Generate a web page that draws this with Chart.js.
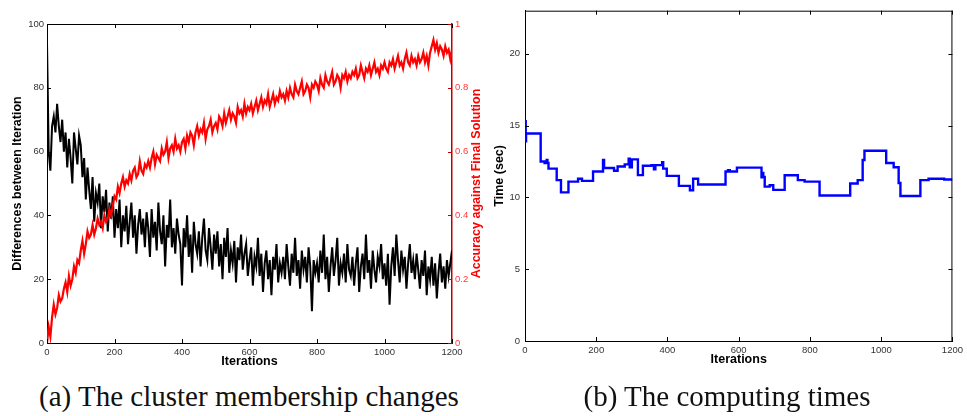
<!DOCTYPE html>
<html>
<head>
<meta charset="utf-8">
<script src="https://cdn.jsdelivr.net/npm/chart.js@4.4.1/dist/chart.umd.min.js"></script>
<style>
  html, body { margin: 0; padding: 0; background: #fff; }
  body { width: 967px; height: 416px; position: relative; overflow: hidden; }
  canvas { position: absolute; top: 0; }
  #left { left: 0; }
  #right { left: 485px; }
  .caption {
    position: absolute; top: 382px;
    font-family: 'Liberation Serif', serif; font-size: 29px; line-height: 29px;
    white-space: nowrap; transform: translateX(-50%); color: #111;
  }
</style>
</head>
<body>
<canvas id="left" width="495" height="375"></canvas>
<canvas id="right" width="482" height="375"></canvas>
<div class="caption" style="left:249px">(a) The cluster membership changes</div>
<div class="caption" style="left:727px">(b) The computing times</div>
<script>
// sampled every 5 iterations, 0..1200
const sampleStep = 5;

const diffValues = [
  94, 60, 54, 68, 71, 66, 75, 68, 63, 70, 60, 66, 55, 64, 58, 50, 66, 61, 56, 65,
  62, 52, 58, 45, 55, 48, 42, 52, 38, 47, 44, 50, 36, 46, 41, 48, 35, 44, 39, 46,
  33, 42, 36, 45, 30, 40, 35, 43, 31, 38, 44, 33, 40, 28, 37, 42, 34, 39, 30, 41,
  36, 27, 42, 33, 38, 29, 44, 35, 31, 40, 24, 37, 33, 45, 30, 36, 28, 39, 34, 31,
  18, 36, 30, 40, 27, 34, 22, 38, 31, 28, 35, 24, 33, 39, 29, 26, 36, 30, 23, 34,
  28, 35, 24, 31, 20, 33, 27, 36, 22, 29, 25, 32, 19, 30, 26, 34, 23, 28, 31, 21,
  26, 30, 18, 27, 24, 33, 21, 28, 16, 25, 29, 20, 26, 15, 27, 23, 31, 19, 25, 22,
  27, 20, 31, 24, 18, 28, 22, 33, 21, 26, 17, 29, 23, 27, 19, 30, 24, 10, 26, 22,
  25, 19, 29, 22, 34, 20, 27, 16, 24, 30, 21, 26, 33, 18, 25, 22, 28, 19, 31, 23,
  21, 27, 18, 25, 30, 16, 24, 28, 20, 34, 22, 26, 17, 29, 23, 19, 27, 24, 31, 20,
  25, 18, 28, 12, 24, 30, 21, 34, 26, 19, 29, 23, 27, 17, 25, 31, 22, 26, 20, 28,
  23, 17, 26, 21, 29, 15, 24, 20, 27, 18, 25, 14, 22, 28, 19, 24, 17, 26, 21, 25,
  29
];

const accuracyValues = [
  0.00, 0.05, 0.02, 0.08, 0.12, 0.09, 0.11, 0.15, 0.13, 0.14, 0.17, 0.19, 0.16, 0.21, 0.18, 0.20, 0.24, 0.22, 0.26, 0.25,
  0.29, 0.32, 0.28, 0.31, 0.35, 0.33, 0.34, 0.37, 0.34, 0.36, 0.39, 0.37, 0.38, 0.36, 0.40, 0.38, 0.39, 0.42, 0.40, 0.43,
  0.46, 0.45, 0.49, 0.47, 0.50, 0.52, 0.49, 0.51, 0.50, 0.53, 0.51, 0.54, 0.55, 0.52, 0.53, 0.57, 0.54, 0.53, 0.56, 0.55,
  0.57, 0.55, 0.58, 0.60, 0.56, 0.59, 0.58, 0.57, 0.61, 0.59, 0.60, 0.63, 0.58, 0.61, 0.62, 0.60, 0.64, 0.61, 0.62, 0.60,
  0.63, 0.64, 0.61, 0.65, 0.63, 0.66, 0.65, 0.62, 0.66, 0.68, 0.65, 0.67, 0.66, 0.69, 0.64, 0.67, 0.68, 0.70, 0.66, 0.68,
  0.69, 0.67, 0.71, 0.70, 0.68, 0.72, 0.69, 0.71, 0.73, 0.70, 0.72, 0.71, 0.69, 0.74, 0.72, 0.73, 0.71, 0.75, 0.72, 0.74,
  0.73, 0.75, 0.72, 0.74, 0.76, 0.73, 0.75, 0.77, 0.74, 0.76, 0.75, 0.78, 0.74, 0.76, 0.78, 0.75, 0.77, 0.76, 0.79, 0.77,
  0.78, 0.76, 0.79, 0.77, 0.80, 0.78, 0.77, 0.81, 0.79, 0.78, 0.80, 0.82, 0.78, 0.79, 0.81, 0.80, 0.77, 0.81, 0.80, 0.82,
  0.81, 0.79, 0.83, 0.81, 0.80, 0.84, 0.82, 0.81, 0.83, 0.85, 0.81, 0.82, 0.84, 0.83, 0.80, 0.84, 0.83, 0.85, 0.82, 0.84,
  0.83, 0.85, 0.84, 0.86, 0.83, 0.84, 0.87, 0.85, 0.83, 0.86, 0.85, 0.87, 0.84, 0.86, 0.88, 0.85, 0.86, 0.84, 0.87, 0.86,
  0.88, 0.86, 0.85, 0.88, 0.87, 0.89, 0.86, 0.88, 0.90, 0.87, 0.88, 0.86, 0.89, 0.91, 0.88, 0.87, 0.90, 0.88, 0.89, 0.87,
  0.90, 0.88, 0.89, 0.91, 0.88, 0.90, 0.87, 0.91, 0.93, 0.95, 0.92, 0.94, 0.91, 0.93, 0.92, 0.90, 0.93, 0.91, 0.92, 0.89,
  0.92
];

// computing time: iteration where a new level starts, and its value
const timeIters = [0, 1, 2, 3, 44, 55, 61, 63, 66, 89, 101, 122, 149, 160, 191, 219, 222, 250, 260, 280,
  291, 294, 300, 317, 331, 355, 362, 366, 385, 388, 398, 432, 463, 472, 486, 563, 570, 575, 595, 664,
  666, 669, 673, 687, 697, 729, 766, 785, 827, 913, 934, 948, 953, 1014, 1035, 1049, 1054, 1110, 1133, 1177, 1200];
const timeSecs = [14.0, 15.3, 13.9, 14.45, 12.5, 12.4, 12.6, 12.4, 12.0, 11.2, 10.35, 11.1, 11.3, 11.15, 11.8, 12.6, 12.05, 11.85, 12.15, 12.3,
  12.7, 12.1, 12.65, 11.55, 12.2, 12.25, 11.95, 12.25, 12.45, 12.0, 11.5, 10.8, 10.5, 11.3, 10.9, 11.8, 11.9, 11.8, 12.07, 11.4,
  11.7, 11.43, 10.75, 10.85, 10.52, 11.54, 11.2, 11.1, 10.13, 10.97, 11.2, 12.6, 13.25, 12.4, 12.1, 11.0, 10.1, 11.2, 11.3, 11.25, 11.25];

const iterTicks = [0, 200, 400, 600, 800, 1000, 1200];
const diffTicks = [0, 20, 40, 60, 80, 100];
const accTicks = [0, 0.2, 0.4, 0.6, 0.8, 1];
const timeTicks = [0, 5, 10, 15, 20];

const tickFont = { family: 'Liberation Sans', size: 9.5 };
const titleFont = { family: 'Liberation Sans', size: 12.5, weight: 'bold' };

const useTicks = list => scale => { scale.ticks = list.map(v => ({ value: v })); };
const plain = v => String(v);

// matlab style: box on top (and right), tick marks pointing inwards
const matlabBox = {
  id: 'matlabBox',
  afterDatasetsDraw(chart, args, opts) {
    const { ctx, chartArea: a } = chart;
    const len = 4;
    const seg = (x1, y1, x2, y2) => { ctx.beginPath(); ctx.moveTo(x1, y1); ctx.lineTo(x2, y2); ctx.stroke(); };
    ctx.save();
    ctx.strokeStyle = '#000';
    ctx.lineWidth = 1;
    seg(a.left, a.top + 0.5, a.right, a.top + 0.5);
    if (opts.rightBox) seg(a.right - 0.5, a.top, a.right - 0.5, a.bottom);
    const x = chart.scales.x;
    x.ticks.forEach(t => {
      const px = Math.round(x.getPixelForValue(t.value)) + 0.5;
      seg(px, a.bottom, px, a.bottom - len);
      seg(px, a.top, px, a.top + len);
    });
    const y = chart.scales.y;
    y.ticks.forEach(t => {
      const py = Math.round(y.getPixelForValue(t.value)) + 0.5;
      seg(a.left, py, a.left + len, py);
      if (opts.rightBox) seg(a.right, py, a.right - len, py);
    });
    const y1 = chart.scales.y1;
    if (y1) {
      ctx.strokeStyle = '#c00000';
      y1.ticks.forEach(t => {
        const py = Math.round(y1.getPixelForValue(t.value)) + 0.5;
        seg(a.right, py, a.right - len, py);
      });
    }
    if (opts.sideTitle) {
      const s = opts.sideTitle;
      ctx.translate(s.x, s.y);
      ctx.rotate(-Math.PI / 2);
      ctx.fillStyle = s.color;
      ctx.font = 'bold 12.5px "Liberation Sans"';
      ctx.textAlign = 'center';
      ctx.textBaseline = 'middle';
      ctx.fillText(s.text, 0, 0);
    }
    ctx.restore();
  }
};

const diffData = diffValues.map((v, i) => ({ x: i * sampleStep, y: v }));
const accData = accuracyValues.map((v, i) => ({ x: i * sampleStep, y: v }));
const timeData = timeIters.map((it, i) => ({ x: it, y: timeSecs[i] }));

new Chart(document.getElementById('left'), {
  type: 'line',
  data: {
    datasets: [{
      label: 'Differences between Iteration',
      data: diffData,
      yAxisID: 'y',
      borderColor: '#000000',
      borderWidth: 2,
      pointRadius: 0,
      order: 1
    }, {
      label: 'Accuracy against Final Solution',
      data: accData,
      yAxisID: 'y1',
      borderColor: '#ff0000',
      borderWidth: 2.2,
      pointRadius: 0,
      order: 0
    }]
  },
  options: {
    responsive: false,
    animation: false,
    devicePixelRatio: 1,
    layout: { padding: { top: 24, left: 0, right: 0, bottom: 0 } },
    plugins: {
      legend: { display: false },
      tooltip: { enabled: false },
      matlabBox: {
        sideTitle: { text: 'Accuracy against Final Solution', x: 477, y: 183.5, color: '#ff0000' }
      }
    },
    scales: {
      x: {
        type: 'linear', min: 0, max: 1200,
        afterBuildTicks: useTicks(iterTicks),
        afterFit: s => { s.height = 32; },
        grid: { display: false, drawTicks: false },
        border: { display: true, color: '#000', width: 1 },
        ticks: { font: tickFont, color: '#333', padding: 4, maxRotation: 0, autoSkip: false, callback: plain },
        title: { display: true, text: 'Iterations', font: titleFont, color: '#000', padding: { top: 0, bottom: 5.5 } }
      },
      y: {
        position: 'left', min: 0, max: 100,
        afterBuildTicks: useTicks(diffTicks),
        afterFit: s => { s.width = 47; },
        grid: { display: false, drawTicks: false },
        border: { display: true, color: '#000', width: 1 },
        ticks: { font: tickFont, color: '#333', padding: 3, callback: plain },
        title: { display: true, text: 'Differences between Iteration', font: titleFont, color: '#000', padding: { top: 10.5, bottom: 0 } }
      },
      y1: {
        position: 'right', min: 0, max: 1,
        afterBuildTicks: useTicks(accTicks),
        afterFit: s => { s.width = 43; },
        grid: { display: false, drawTicks: false },
        border: { display: true, color: '#c00000', width: 1.5 },
        ticks: { font: tickFont, color: '#ff3b3b', padding: 3, callback: plain }
      }
    }
  },
  plugins: [matlabBox]
});

new Chart(document.getElementById('right'), {
  type: 'line',
  data: {
    datasets: [{
      label: 'Time (sec)',
      data: timeData,
      borderColor: '#0000ff',
      borderWidth: 2.4,
      pointRadius: 0,
      stepped: true
    }]
  },
  options: {
    responsive: false,
    animation: false,
    devicePixelRatio: 1,
    layout: { padding: { top: 3, left: 0, right: 14, bottom: 0 } },
    plugins: {
      legend: { display: false },
      tooltip: { enabled: false },
      matlabBox: { rightBox: true }
    },
    scales: {
      x: {
        type: 'linear', min: 0, max: 1200,
        afterBuildTicks: useTicks(iterTicks),
        afterFit: s => { s.height = 34; },
        grid: { display: false, drawTicks: false },
        border: { display: true, color: '#000', width: 1 },
        ticks: { font: tickFont, color: '#333', padding: 4, maxRotation: 0, autoSkip: false, callback: plain },
        title: { display: true, text: 'Iterations', font: titleFont, color: '#000', padding: { top: 0, bottom: 7.5 } }
      },
      y: {
        position: 'left', min: 0, max: 23,
        afterBuildTicks: useTicks(timeTicks),
        afterFit: s => { s.width = 40; },
        grid: { display: false, drawTicks: false },
        border: { display: true, color: '#000', width: 1 },
        ticks: { font: tickFont, color: '#333', padding: 5, callback: plain },
        title: { display: true, text: 'Time (sec)', font: titleFont, color: '#000', padding: { top: 7.5, bottom: 0 } }
      }
    }
  },
  plugins: [matlabBox]
});
</script>
</body>
</html>
